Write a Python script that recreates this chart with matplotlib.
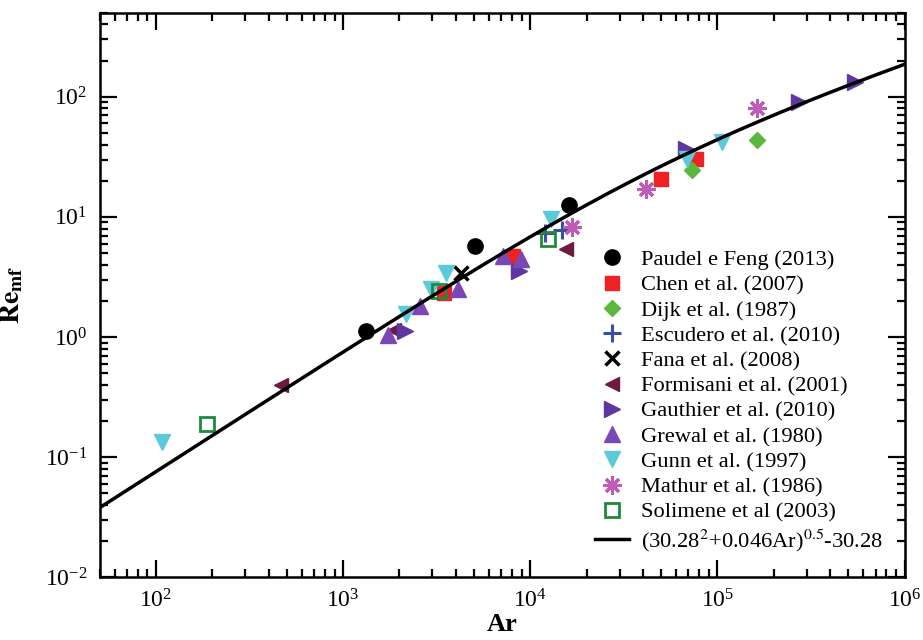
import numpy as np
import matplotlib
matplotlib.use('Agg')
import matplotlib.pyplot as plt

plt.rcParams['font.family'] = ['Liberation Serif', 'DejaVu Serif']
plt.rcParams['mathtext.fontset'] = 'stix'

# data (Ar, Re_mf)
paudel_ar = [1330, 5040, 16150]
paudel_re = [1.13, 5.74, 12.6]
chen_ar = [3480, 8060, 49800, 76500]
chen_re = [2.33, 4.73, 20.8, 30.5]
dijk_ar = [73500, 163000]
dijk_re = [24.4, 43.4]
escudero_ar = [12000, 14700]
escudero_re = [7.4, 7.8]
fana_ar = [4280]
fana_re = [3.43]
formisani_ar = [463, 1860, 15500]
formisani_re = [0.40, 1.15, 5.4]
gauthier_ar = [2130, 8750, 67600, 271600, 545800]
gauthier_re = [1.12, 3.55, 37.0, 90.8, 133.6]
grewal_ar = [1740, 2560, 4100, 7130, 8930]
grewal_re = [1.03, 1.81, 2.49, 4.73, 4.44]
gunn_ar = [108, 2180, 2960, 3560, 12900, 69000, 106100]
gunn_re = [0.134, 1.54, 2.49, 3.43, 9.6, 30.5, 42.0]
mathur_ar = [16800, 41400, 163000]
mathur_re = [8.2, 17.1, 80.0]
solimene_ar = [187, 3270, 12400]
solimene_re = [0.188, 2.41, 6.53]

# correlation curve
ar_line = np.logspace(np.log10(50), 6, 300)
re_line = (30.28**2 + 0.046 * ar_line) ** 0.5 - 30.28

fig = plt.figure(figsize=(9.23, 6.4), dpi=100)
ax = fig.add_axes([0.108, 0.098, 0.872, 0.882])

ax.plot(paudel_ar, paudel_re, 'o', color='black', ms=11, label='Paudel e Feng (2013)')
ax.plot(chen_ar, chen_re, 's', color='#ee2222', ms=9.5, label='Chen et al. (2007)')
ax.plot(dijk_ar, dijk_re, 'D', color='#5cb83c', ms=8.5, label='Dijk et al. (1987)')
ax.plot(escudero_ar, escudero_re, '+', color='#3a4ea8', ms=13, mew=2.2, label='Escudero et al. (2010)')
ax.plot(fana_ar, fana_re, 'x', color='black', ms=10, mew=2.5, label='Fana et al. (2008)')
ax.plot(formisani_ar, formisani_re, '<', color='#6e1a40', ms=10, label='Formisani et al. (2001)')
ax.plot(gauthier_ar, gauthier_re, '>', color='#5e38a0', ms=11, label='Gauthier et al. (2010)')
ax.plot(grewal_ar, grewal_re, '^', color='#7a48b4', ms=11, label='Grewal et al. (1980)')
ax.plot(gunn_ar, gunn_re, 'v', color='#5ccadb', ms=11, label='Gunn et al. (1997)')
ax.plot(mathur_ar, mathur_re, marker=(8, 2, 0), ls='none', color='#c05cb8', ms=13, mew=2.2, label='Mathur et al. (1986)')
ax.plot(solimene_ar, solimene_re, 's', mfc='none', mec='#1f8a3a', mew=2, ms=10, label='Solimene et al (2003)')
ax.plot(ar_line, re_line, '-', color='black', lw=2.5,
        label=r'(30.28$^{2}$+0.046Ar)$^{0.5}$-30.28')

ax.set_xscale('log')
ax.set_yscale('log')
ax.set_xlim(50, 1e6)
ax.set_ylim(0.01, 500)

ax.tick_params(which='both', direction='in', top=True, right=True, width=1.6)
ax.tick_params(which='major', length=12, labelsize=17, pad=9)
ax.tick_params(which='minor', length=6)
for s in ax.spines.values():
    s.set_linewidth(1.8)

ax.set_xlabel('Ar', fontsize=19, fontweight='bold', labelpad=0)
ax.set_ylabel(r'$\mathbf{Re_{mf}}$', fontsize=20, labelpad=14)

ax.legend(loc='upper left', bbox_to_anchor=(0.645, 0.61), bbox_transform=fig.transFigure,
          frameon=False, fontsize=16.2, labelspacing=0.2, handlelength=1.5,
          handletextpad=0.55, borderpad=0, borderaxespad=0, numpoints=1)

fig.savefig('out.png', dpi=100)
